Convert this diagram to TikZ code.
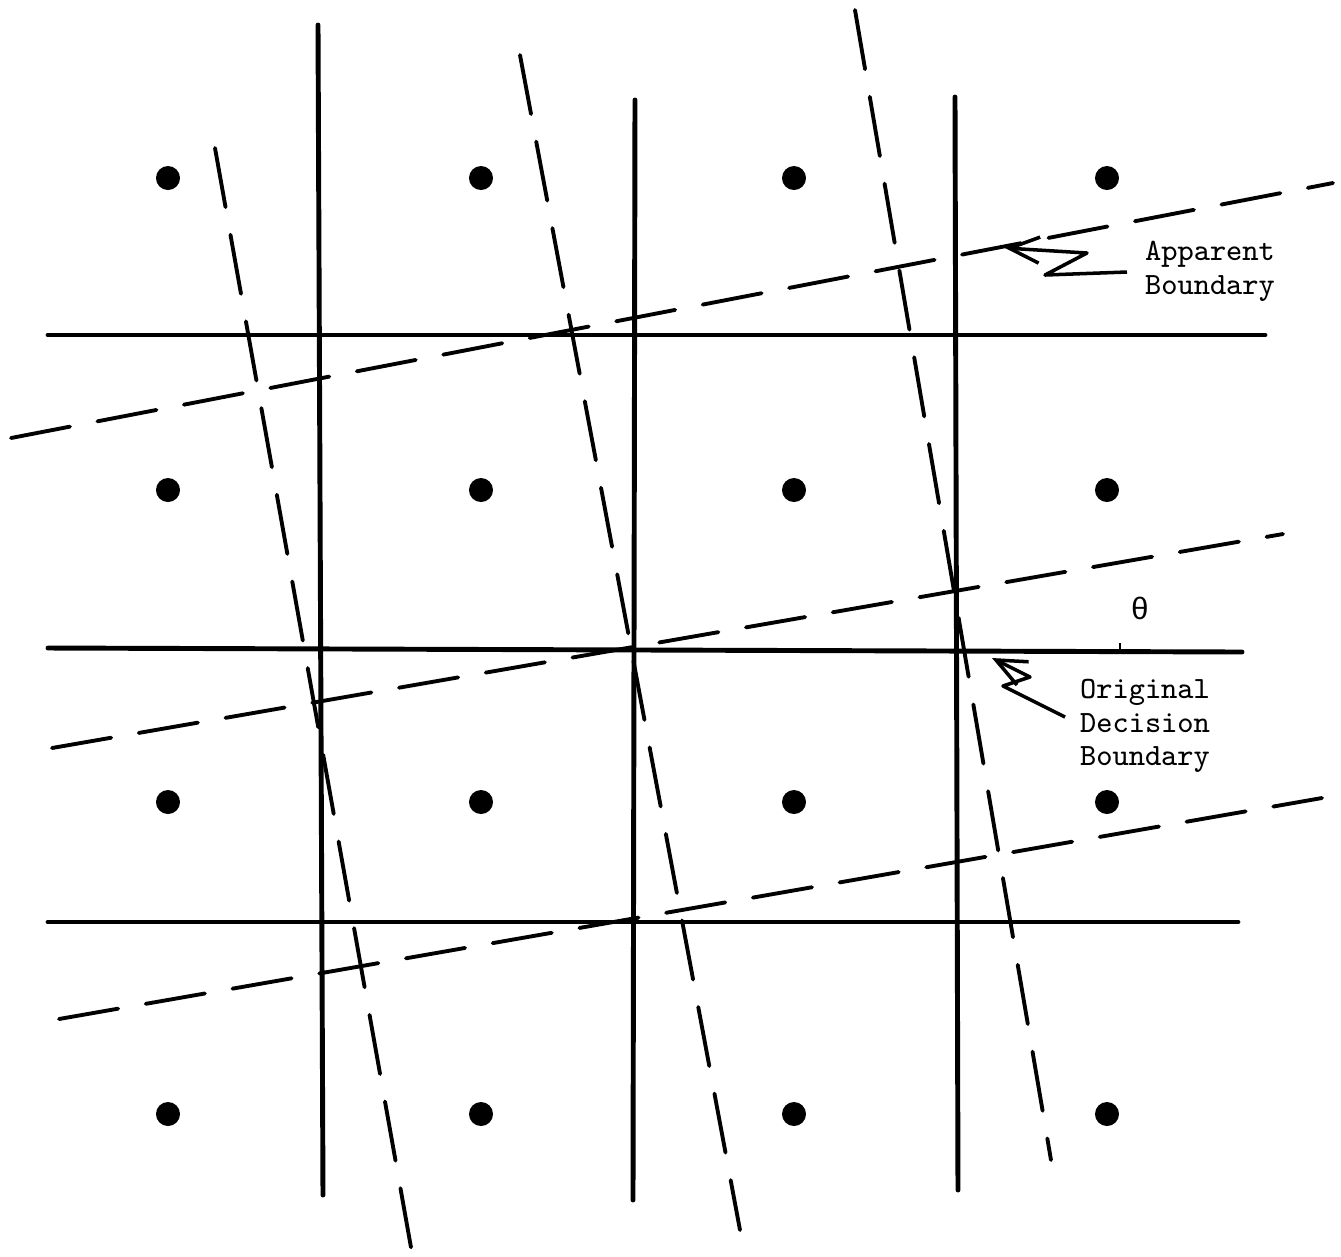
\documentclass[tikz,border=0pt]{standalone}
\usepackage{fontspec}
\newfontfamily\greekfont{Liberation Mono}
\usetikzlibrary{arrows.meta}

\begin{document}
\begin{tikzpicture}[x=0.01cm, y=-0.01cm,
    grid/.style={line width=1.4pt, line cap=round},
    boundary/.style={line width=1.1pt, line cap=round, dash pattern=on 0.6cm off 0.28cm},
    dot/.style={circle, fill=black, inner sep=0pt, minimum size=0.24cm},
    label/.style={font=\fontsize{8.8}{9.6}\selectfont\ttfamily, align=center, inner sep=0pt},
    arrow/.style={-{Straight Barb[length=3mm, width=2.6mm]}, line width=1pt, line join=round}
]
\useasboundingbox (0,0) rectangle (1341,1256);

% signal points
\foreach \i in {0,...,3}
  \foreach \j in {0,...,3}
    \node (p\i\j) [dot] at (168+313*\i, 178+312*\j) {};

% original decision boundary
\draw [grid] (318,25) -- (323,1195);
\draw [grid] (635,100) -- (633,1200);
\draw [grid] (955,97) -- (958,1190);
\draw [grid] (48,335) -- (1265,335);
\draw [grid] (48,648) -- (1242,652);
\draw [grid] (48,922) -- (1238,922);

% apparent boundary (rotated)
\draw [boundary] (11,438) -- (1333,183);
\draw [boundary] (52,748) -- (1283,534);
\draw [boundary] (59,1019) -- (1322,798);
\draw [boundary] (215,148) -- (412,1253);
\draw [boundary] (520,55) -- (740,1230);
\draw [boundary] (855,10) -- (1051,1160);

% angle
\draw [line width=0.6pt] (1120,643) -- (1120,650);
\node (theta) [label] at (1140,608) {\greekfont θ};

% labels
\node (apparent) [label] at (1210,271) {Apparent\\Boundary};
\node (original) [label] at (1145,726) {Original\\Decision\\Boundary};

\coordinate (ap1) at (1127,272);
\coordinate (ap2) at (1045,275);
\coordinate (ap3) at (1087,253);
\coordinate (aptip) at (1005,248);
\draw [arrow] (ap1) -- (ap2) -- (ap3) -- (aptip);

\coordinate (or1) at (1065,717);
\coordinate (or2) at (1003,686);
\coordinate (or3) at (1030,677);
\coordinate (ortip) at (992,658);
\draw [arrow] (or1) -- (or2) -- (or3) -- (ortip);

\end{tikzpicture}
\end{document}
